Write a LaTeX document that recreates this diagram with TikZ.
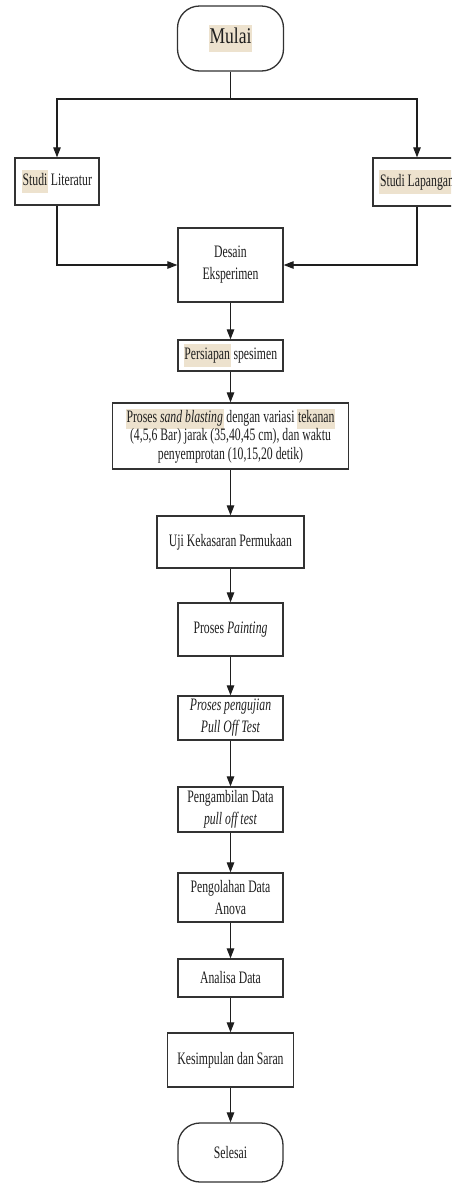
\documentclass[tikz,border=0pt]{standalone}
\usepackage{fontspec}
\setmainfont{Liberation Serif}[FakeStretch=0.67]
\newfontfamily\wideserif{Liberation Serif}[FakeStretch=0.78]
\usetikzlibrary{arrows.meta}
\definecolor{hlc}{RGB}{237,226,206}
\definecolor{ink}{RGB}{30,30,30}
\definecolor{edge}{RGB}{50,50,50}
\newcommand\hlt[1]{{\setlength{\fboxsep}{0.6pt}\colorbox{hlc}{\strut #1}}}
\begin{document}
\begin{tikzpicture}[x=1pt,y=-1pt,
  box/.style={draw=edge, line width=1.3pt, rectangle, inner sep=0pt, align=center,
    text=ink, font=\fontsize{17.5}{22}\selectfont},
  term/.style={box, rounded corners=22pt},
  arr/.style={draw=ink, line width=1.1pt, -{Triangle[length=10pt,width=7.5pt]}},
  ln/.style={draw=ink, line width=1.1pt}]
\useasboundingbox (0,0) rectangle (451,1184);
\fill[white] (0,0) rectangle (451,1184);
\begin{scope}
\clip (0,0) rectangle (451,1184);
\node[term, minimum width=106pt, minimum height=65pt, font=\wideserif\fontsize{22.5}{26}\selectfont] (mulai) at (230.5,38.5) {\hlt{Mulai}};
\node[box, minimum width=84pt, minimum height=47pt] (lit) at (57,181.5) {\hlt{Studi} Literatur};
\node[box, minimum width=88pt, minimum height=48pt] (lap) at (417,182) {\hlt{Studi Lapangan}};
\node[box, minimum width=105pt, minimum height=74pt] (desain) at (230.5,265) {Desain\\Eksperimen};
\node[box, minimum width=105pt, minimum height=31pt] (persiapan) at (230.5,355.5) {\hlt{Persiapan} spesimen};
\node[box, minimum width=236pt, minimum height=66pt, font=\fontsize{17.5}{18.5}\selectfont] (proses) at (230.5,436) {\hlt{Proses \textit{sand blasting}} dengan variasi \hlt{tekanan}\\(4,5,6 Bar) jarak (35,40,45 cm), dan waktu\\penyemprotan (10,15,20 detik)};
\node[box, minimum width=147pt, minimum height=52pt] (uji) at (230.5,542) {Uji Kekasaran Permukaan};
\node[box, minimum width=105pt, minimum height=53pt] (paint) at (230.5,629.5) {Proses \textit{Painting}};
\node[box, minimum width=105pt, minimum height=44pt] (pengujian) at (230.5,718) {\textit{Proses pengujian}\\\textit{Pull Off Test}};
\node[box, minimum width=105pt, minimum height=45pt] (ambil) at (230.5,809.5) {Pengambilan Data\\\textit{pull off test}};
\node[box, minimum width=105pt, minimum height=49pt] (olah) at (230.5,897.5) {Pengolahan Data\\Anova};
\node[box, minimum width=105pt, minimum height=38pt] (analisa) at (230.5,978) {Analisa Data};
\node[box, minimum width=126pt, minimum height=54pt] (simpul) at (230.5,1060) {Kesimpulan dan Saran};
\node[term, minimum width=105pt, minimum height=59pt] (selesai) at (230.5,1152.5) {Selesai};
\coordinate (hm) at (230.5,99);
\draw[ln] (mulai) -- (hm);
\draw[arr] (hm) -| (lit);
\draw[arr] (hm) -| (lap);
\draw[arr] (lit) |- (desain);
\draw[arr] (lap) |- (desain);
\draw[arr] (desain) -- (persiapan);
\draw[arr] (persiapan) -- (proses);
\draw[arr] (proses) -- (uji);
\draw[arr] (uji) -- (paint);
\draw[arr] (paint) -- (pengujian);
\draw[arr] (pengujian) -- (ambil);
\draw[arr] (ambil) -- (olah);
\draw[arr] (olah) -- (analisa);
\draw[arr] (analisa) -- (simpul);
\draw[arr] (simpul) -- (selesai);
\end{scope}
\end{tikzpicture}
\end{document}
